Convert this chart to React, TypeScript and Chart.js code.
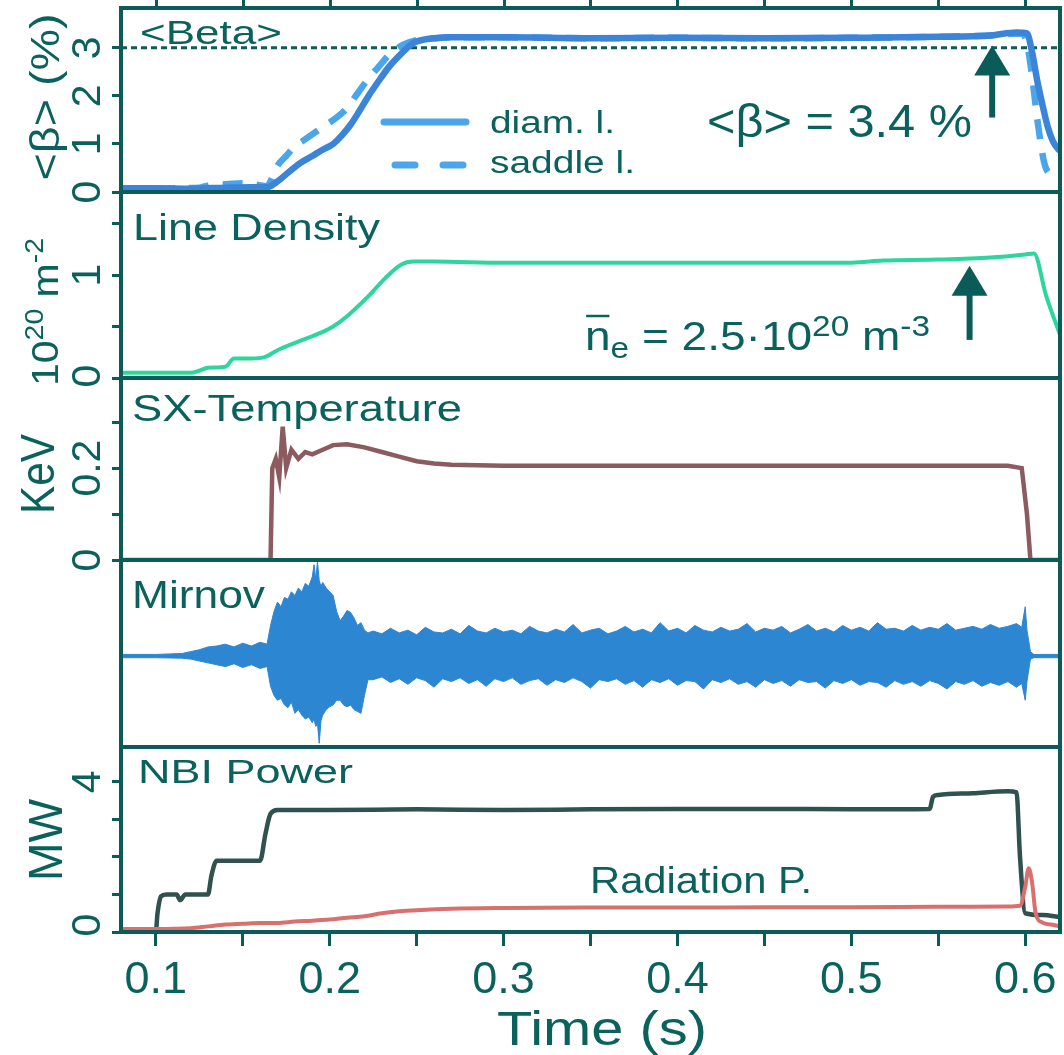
import React, { useEffect, useRef } from 'react';
import { Chart, registerables } from 'chart.js';

Chart.register(...registerables);

// ---------------- data ----------------
const X_MIN = 0.08;
const X_MAX = 0.62;
const X_TICKS = [0.1, 0.15, 0.2, 0.25, 0.3, 0.35, 0.4, 0.45, 0.5, 0.55, 0.6];
const X_LABEL_VALUES = [0.1, 0.2, 0.3, 0.4, 0.5, 0.6];
const X_LABELS = ['0.1', '0.2', '0.3', '0.4', '0.5', '0.6'];
const X_TITLE = 'Time (s)';

const PANEL_TITLES = ['<Beta>', 'Line Density', 'SX-Temperature', 'Mirnov', 'NBI Power'];
const SERIES_LABELS = ['diam. l.', 'saddle l.', 'Line Density', 'SX-Temperature', 'Mirnov', 'NBI Power', 'Radiation P.'];

// Panel 1: <beta> (%)
const BETA_TICKS = [0, 1, 2, 3];
const BETA_TICK_LABELS = ['0', '1', '2', '3'];
const BETA_REF = 3;
const BETA_DIAM_T = [0.08, 0.1, 0.12, 0.14, 0.155, 0.164, 0.17, 0.176, 0.183, 0.19, 0.196, 0.202, 0.207, 0.212, 0.217, 0.222, 0.228, 0.234, 0.239, 0.244, 0.248, 0.254, 0.26, 0.27, 0.3, 0.35, 0.4, 0.45, 0.5, 0.55, 0.58, 0.595, 0.601, 0.604, 0.607, 0.61, 0.613, 0.616, 0.62];
const BETA_DIAM_V = [0.08, 0.08, 0.07, 0.09, 0.1, 0.1, 0.22, 0.4, 0.6, 0.75, 0.88, 1.0, 1.18, 1.4, 1.68, 1.98, 2.3, 2.6, 2.8, 2.98, 3.1, 3.17, 3.2, 3.22, 3.22, 3.2, 3.21, 3.2, 3.21, 3.23, 3.26, 3.32, 3.3, 2.9, 2.3, 1.8, 1.35, 1.05, 0.85];
const BETA_SADDLE_T = [0.08, 0.095, 0.11, 0.125, 0.132, 0.14, 0.15, 0.158, 0.164, 0.167, 0.17, 0.175, 0.18, 0.186, 0.192, 0.198, 0.204, 0.21, 0.216, 0.222, 0.228, 0.234, 0.24, 0.246, 0.252, 0.26, 0.27, 0.3, 0.35, 0.4, 0.45, 0.5, 0.55, 0.58, 0.598, 0.601, 0.604, 0.607, 0.611, 0.615, 0.62];
const BETA_SADDLE_V = [0.08, 0.07, 0.08, 0.09, 0.15, 0.16, 0.18, 0.15, 0.12, 0.3, 0.55, 0.75, 0.95, 1.1, 1.25, 1.4, 1.55, 1.75, 2.05, 2.35, 2.6, 2.85, 3.02, 3.12, 3.18, 3.2, 3.22, 3.22, 3.2, 3.21, 3.2, 3.21, 3.23, 3.26, 3.3, 3.1, 2.4, 1.5, 0.6, 0.35, 0.3];

// Panel 2: line density (1e20 m^-2)
const DENS_TICKS = [0, 0.5, 1, 1.5];
const DENS_TICK_LABELS = ['0', '', '1', ''];
const DENS_T = [0.08, 0.1, 0.12, 0.125, 0.13, 0.14, 0.145, 0.155, 0.162, 0.17, 0.183, 0.195, 0.202, 0.21, 0.222, 0.232, 0.241, 0.248, 0.26, 0.3, 0.35, 0.4, 0.45, 0.5, 0.518, 0.55, 0.58, 0.6, 0.605, 0.612, 0.62];
const DENS_V = [0.05, 0.05, 0.05, 0.07, 0.1, 0.11, 0.19, 0.19, 0.2, 0.27, 0.36, 0.44, 0.5, 0.6, 0.79, 0.97, 1.1, 1.13, 1.13, 1.12, 1.12, 1.12, 1.12, 1.12, 1.14, 1.15, 1.17, 1.2, 1.21, 0.8, 0.42];

// Panel 3: SX temperature (keV)
const SX_TICKS = [0, 0.1, 0.2, 0.3];
const SX_TICK_LABELS = ['0', '', '0.2', ''];
const SX_T = [0.08, 0.166, 0.167, 0.169, 0.171, 0.173, 0.175, 0.178, 0.182, 0.186, 0.19, 0.196, 0.202, 0.21, 0.22, 0.23, 0.24, 0.25, 0.26, 0.27, 0.3, 0.35, 0.4, 0.45, 0.5, 0.55, 0.59, 0.598, 0.601, 0.603, 0.62];
const SX_V = [0, 0, 0.2, 0.22, 0.18, 0.29, 0.2, 0.24, 0.22, 0.235, 0.23, 0.24, 0.25, 0.252, 0.245, 0.235, 0.225, 0.215, 0.21, 0.207, 0.205, 0.205, 0.205, 0.205, 0.205, 0.205, 0.205, 0.2, 0.1, 0, 0];

// Panel 4: Mirnov signal envelope (arb. units)
const MIR_T = [0.08, 0.1, 0.115, 0.12, 0.125, 0.13, 0.135, 0.14, 0.145, 0.15, 0.155, 0.16, 0.164, 0.166, 0.168, 0.17, 0.172, 0.174, 0.176, 0.178, 0.18, 0.182, 0.184, 0.186, 0.188, 0.19, 0.191, 0.192, 0.193, 0.194, 0.195, 0.196, 0.198, 0.2, 0.202, 0.204, 0.206, 0.208, 0.21, 0.212, 0.214, 0.216, 0.218, 0.22, 0.222,
  0.225, 0.23, 0.235, 0.24, 0.245, 0.25, 0.255, 0.26, 0.265, 0.27, 0.275, 0.28, 0.285, 0.29, 0.295, 0.3, 0.305, 0.31, 0.315, 0.32, 0.325, 0.33, 0.335, 0.34, 0.345, 0.35, 0.355, 0.36, 0.365, 0.37, 0.375, 0.38, 0.385, 0.39, 0.395, 0.4, 0.405, 0.41, 0.415, 0.42, 0.425, 0.43, 0.435, 0.44, 0.445, 0.45, 0.455, 0.46, 0.465, 0.47, 0.475, 0.48, 0.485, 0.49, 0.495, 0.5, 0.505, 0.51, 0.515, 0.52, 0.525, 0.53, 0.535, 0.54, 0.545, 0.55, 0.555, 0.56, 0.565, 0.57, 0.575, 0.58, 0.585, 0.59, 0.595,
  0.598, 0.6, 0.601, 0.603, 0.605, 0.62];
const MIR_UPPER = [-0.01, -0.01, 0.0, 0.02, 0.04, 0.07, 0.08, 0.1, 0.07, 0.11, 0.08, 0.12, 0.1, 0.3, 0.45, 0.55, 0.5, 0.6, 0.58, 0.66, 0.62, 0.7, 0.66, 0.75, 0.72, 0.82, 0.95, 0.8, 0.98, 0.78, 0.72, 0.76, 0.7, 0.66, 0.62, 0.45, 0.35, 0.4, 0.46, 0.44, 0.38, 0.3, 0.33, 0.25, 0.22,
  0.24, 0.21, 0.27, 0.22, 0.25, 0.2, 0.28, 0.23, 0.22, 0.26, 0.21, 0.3, 0.24, 0.22, 0.27, 0.23, 0.25, 0.21, 0.29, 0.24, 0.22, 0.26, 0.23, 0.31, 0.22, 0.25, 0.27, 0.21, 0.24, 0.29, 0.23, 0.26, 0.22, 0.33, 0.24, 0.27, 0.22, 0.3, 0.25, 0.23, 0.28, 0.24, 0.26, 0.32, 0.23, 0.27, 0.25, 0.29, 0.22, 0.26, 0.31, 0.24, 0.27, 0.23, 0.3, 0.25, 0.28, 0.24, 0.33, 0.26, 0.27, 0.24, 0.3, 0.25, 0.28, 0.26, 0.32, 0.25, 0.27, 0.29, 0.26, 0.31, 0.27, 0.29, 0.32,
  0.28, 0.5, 0.25, 0.02, -0.01, -0.01];
const MIR_LOWER = [-0.045, -0.045, -0.05, -0.06, -0.08, -0.1, -0.12, -0.14, -0.11, -0.15, -0.12, -0.16, -0.14, -0.35, -0.45, -0.5, -0.48, -0.55, -0.58, -0.52, -0.64, -0.6, -0.66, -0.7, -0.68, -0.74, -0.7, -0.78, -0.75, -0.96, -0.72, -0.66, -0.6, -0.57, -0.55, -0.5, -0.5, -0.55, -0.57, -0.55, -0.6, -0.62, -0.64, -0.45, -0.28,
  -0.28, -0.25, -0.31, -0.27, -0.33, -0.26, -0.29, -0.36, -0.27, -0.3, -0.26, -0.32, -0.28, -0.35, -0.27, -0.3, -0.26, -0.33, -0.29, -0.27, -0.34, -0.28, -0.31, -0.26, -0.3, -0.37, -0.28, -0.3, -0.27, -0.33, -0.29, -0.36, -0.28, -0.31, -0.27, -0.34, -0.29, -0.3, -0.38, -0.28, -0.31, -0.27, -0.33, -0.3, -0.36, -0.28, -0.32, -0.29, -0.35, -0.28, -0.31, -0.3, -0.37, -0.29, -0.32, -0.28, -0.34, -0.3, -0.31, -0.36, -0.29, -0.33, -0.3, -0.35, -0.29, -0.32, -0.38, -0.3, -0.33, -0.29, -0.35, -0.31, -0.34, -0.3, -0.36,
  -0.32, -0.5, -0.3, -0.06, -0.045, -0.045];

// Panel 5: NBI and radiation power (MW)
const NBI_TICKS = [0, 1, 2, 3, 4];
const NBI_TICK_LABELS = ['0', '', '', '', '4'];
const NBI_T = [0.08, 0.1, 0.101, 0.103, 0.106, 0.112, 0.114, 0.117, 0.13, 0.132, 0.135, 0.16, 0.163, 0.166, 0.17, 0.2, 0.25, 0.3, 0.35, 0.4, 0.45, 0.5, 0.545, 0.547, 0.55, 0.57, 0.59, 0.595, 0.597, 0.6, 0.61, 0.62];
const NBI_V = [0, 0, 0.5, 0.95, 1.0, 1.0, 0.85, 1.0, 1.0, 1.5, 1.9, 1.9, 2.6, 3.15, 3.25, 3.25, 3.27, 3.25, 3.27, 3.28, 3.28, 3.27, 3.28, 3.6, 3.65, 3.7, 3.75, 3.72, 2.0, 0.5, 0.45, 0.4];
const RAD_T = [0.08, 0.1, 0.12, 0.13, 0.14, 0.15, 0.16, 0.17, 0.18, 0.19, 0.2, 0.21, 0.22, 0.23, 0.24, 0.25, 0.27, 0.3, 0.35, 0.4, 0.45, 0.5, 0.55, 0.59, 0.597, 0.6, 0.602, 0.604, 0.606, 0.61, 0.615, 0.62];
const RAD_V = [0.08, 0.08, 0.1, 0.15, 0.2, 0.22, 0.24, 0.24, 0.28, 0.3, 0.33, 0.38, 0.42, 0.5, 0.55, 0.58, 0.62, 0.64, 0.65, 0.65, 0.66, 0.66, 0.67, 0.68, 0.7, 1.2, 1.7, 1.3, 0.5, 0.25, 0.2, 0.15];

// annotation arrows (time, from value, to value)
const BETA_ARROW = [0.581, 1.55, 3.05];
const DENS_ARROW = [0.568, 0.37, 1.09];

// ---------------- styles ----------------
const FONT = "'Liberation Sans', Arial, Helvetica, sans-serif";
const TEAL = '#0b5c58';
const TEXT = '#0b625c';
const C_DIAM = '#3b84d8';
const C_SADDLE = '#4aa5ec';
const C_DENS = '#2dd69a';
const C_SX = '#8c5b60';
const C_MIR = '#2d86d2';
const C_NBI = '#30524f';
const C_RAD = '#d8706e';

const W = 1064;
const H = 1055;
const LEFT = 121;
const BOTTOM = 932;

type Run = { t: string; size: number; dy?: number; over?: boolean };

function drawRuns(ctx: CanvasRenderingContext2D, runs: Run[], x: number, y: number, rot: number, width: number, align: 'left' | 'center', color: string = TEXT) {
  ctx.save();
  ctx.fillStyle = color;
  ctx.strokeStyle = color;
  ctx.textAlign = 'left';
  ctx.textBaseline = 'alphabetic';
  const widths = runs.map((r) => {
    ctx.font = `${r.size}px ${FONT}`;
    return ctx.measureText(r.t).width;
  });
  const total = widths.reduce((a, b) => a + b, 0);
  const s = width > 0 ? width / total : 1;
  ctx.translate(x, y);
  if (rot) ctx.rotate(rot);
  ctx.scale(s, 1);
  let cx = align === 'center' ? -total / 2 : 0;
  runs.forEach((r, i) => {
    ctx.font = `${r.size}px ${FONT}`;
    const dy = r.dy || 0;
    ctx.fillText(r.t, cx, -dy);
    if (r.over) {
      ctx.lineWidth = 2.5;
      ctx.beginPath();
      ctx.moveTo(cx + 1, -dy - r.size * 0.85);
      ctx.lineTo(cx + widths[i] - 1, -dy - r.size * 0.85);
      ctx.stroke();
    }
    cx += widths[i];
  });
  ctx.restore();
}

const pts = (T: number[], V: number[]) => T.map((t, i) => ({ x: t, y: V[i] }));

const PANELS = [
  { id: 'yBeta', ticks: BETA_TICKS, labels: BETA_TICK_LABELS, zeroShift: 0 },
  { id: 'yDens', ticks: DENS_TICKS, labels: DENS_TICK_LABELS, zeroShift: -2 },
  { id: 'ySx', ticks: SX_TICKS, labels: SX_TICK_LABELS, zeroShift: 0 },
  { id: 'yMir', ticks: [] as number[], labels: [] as string[], zeroShift: 0 },
  { id: 'yNbi', ticks: NBI_TICKS, labels: NBI_TICK_LABELS, zeroShift: -7 },
];

function drawArrow(ctx: CanvasRenderingContext2D, px: number, yFrom: number, yTo: number) {
  ctx.save();
  ctx.fillStyle = TEAL;
  ctx.strokeStyle = TEAL;
  ctx.lineWidth = 6;
  ctx.beginPath();
  ctx.moveTo(px, yFrom);
  ctx.lineTo(px, yTo + 20);
  ctx.stroke();
  ctx.beginPath();
  ctx.moveTo(px, yTo);
  ctx.lineTo(px - 18, yTo + 30);
  ctx.lineTo(px + 18, yTo + 30);
  ctx.closePath();
  ctx.fill();
  ctx.restore();
}

const overlay = {
  id: 'overlay',
  beforeDraw(chart: any) {
    const ctx = chart.ctx as CanvasRenderingContext2D;
    ctx.save();
    ctx.fillStyle = '#ffffff';
    ctx.fillRect(0, 0, chart.width, chart.height);
    ctx.restore();
  },
  afterDatasetsDraw(chart: any) {
    const ctx = chart.ctx as CanvasRenderingContext2D;
    const xs = chart.scales.x;
    const yb = chart.scales.yBeta;
    drawArrow(ctx, xs.getPixelForValue(BETA_ARROW[0]), yb.getPixelForValue(BETA_ARROW[1]), yb.getPixelForValue(BETA_ARROW[2]));
    const yd = chart.scales.yDens;
    drawArrow(ctx, xs.getPixelForValue(DENS_ARROW[0]), yd.getPixelForValue(DENS_ARROW[1]), yd.getPixelForValue(DENS_ARROW[2]));
    // legend
    ctx.save();
    ctx.lineCap = 'round';
    ctx.lineWidth = 7;
    ctx.strokeStyle = C_SADDLE;
    ctx.beginPath();
    ctx.moveTo(384, 122);
    ctx.lineTo(466, 122);
    ctx.stroke();
    ctx.setLineDash([20, 28]);
    ctx.beginPath();
    ctx.moveTo(395, 165);
    ctx.lineTo(466, 165);
    ctx.stroke();
    ctx.restore();
    drawRuns(ctx, [{ t: SERIES_LABELS[0], size: 31 }], 490, 133, 0, 125, 'left');
    drawRuns(ctx, [{ t: SERIES_LABELS[1], size: 31 }], 490, 173, 0, 145, 'left');
  },
  afterDraw(chart: any) {
    const ctx = chart.ctx as CanvasRenderingContext2D;
    const ca = chart.chartArea;
    const xs = chart.scales.x;
    // panel frames
    ctx.save();
    ctx.strokeStyle = TEAL;
    ctx.lineWidth = 4;
    for (const p of PANELS) {
      const s = chart.scales[p.id];
      ctx.strokeRect(ca.left, s.top, ca.right - ca.left, s.bottom - s.top);
    }
    // top tick marks
    ctx.lineWidth = 3;
    for (const v of X_TICKS) {
      const px = Math.round(xs.getPixelForValue(v)) + 0.5;
      ctx.beginPath();
      ctx.moveTo(px, ca.top);
      ctx.lineTo(px, ca.top - 9);
      ctx.stroke();
    }
    ctx.restore();
    // x labels
    X_LABEL_VALUES.forEach((v, i) => {
      drawRuns(ctx, [{ t: X_LABELS[i], size: 45 }], xs.getPixelForValue(v), 993, 0, 0, 'center');
    });
    drawRuns(ctx, [{ t: X_TITLE, size: 48 }], 602, 1045, 0, 210, 'center');
    // y tick labels (rotated)
    for (const p of PANELS) {
      const s = chart.scales[p.id];
      p.ticks.forEach((v, i) => {
        const lab = p.labels[i];
        if (!lab) return;
        const py = s.getPixelForValue(v) + (v === 0 ? p.zeroShift : 0);
        drawRuns(ctx, [{ t: lab, size: 41 }], 100, py, -Math.PI / 2, 0, 'center');
      });
    }
    // y titles (rotated)
    drawRuns(ctx, [{ t: '<β> (%)', size: 41 }], 59, 97, -Math.PI / 2, 167, 'center');
    drawRuns(ctx, [{ t: '10', size: 36 }, { t: '20', size: 25, dy: 15 }, { t: ' m', size: 36 }, { t: '-2', size: 25, dy: 15 }], 58, 312, -Math.PI / 2, 148, 'center');
    drawRuns(ctx, [{ t: 'KeV', size: 49 }], 54, 474, -Math.PI / 2, 80, 'center');
    drawRuns(ctx, [{ t: 'MW', size: 49 }], 62, 840, -Math.PI / 2, 82, 'center');
    // panel titles
    drawRuns(ctx, [{ t: PANEL_TITLES[0], size: 33 }], 140, 44, 0, 142, 'left');
    drawRuns(ctx, [{ t: PANEL_TITLES[1], size: 36 }], 133, 240, 0, 247, 'left');
    drawRuns(ctx, [{ t: PANEL_TITLES[2], size: 36 }], 132, 421, 0, 330, 'left');
    drawRuns(ctx, [{ t: PANEL_TITLES[3], size: 39 }], 132, 608, 0, 133, 'left');
    drawRuns(ctx, [{ t: PANEL_TITLES[4], size: 34 }], 138, 783, 0, 215, 'left');
    drawRuns(ctx, [{ t: SERIES_LABELS[6], size: 36 }], 590, 893, 0, 222, 'left');
    // annotations
    drawRuns(ctx, [{ t: '<β> = 3.4 %', size: 47 }], 707, 137, 0, 265, 'left');
    drawRuns(ctx, [
      { t: 'n', size: 40, over: true },
      { t: 'e', size: 29, dy: -8 },
      { t: ' = 2.5·10', size: 40 },
      { t: '20', size: 29, dy: 14 },
      { t: ' m', size: 40 },
      { t: '-3', size: 29, dy: 14 },
    ], 585, 350, 0, 345, 'left');
  },
};

function yAxis(min: number, max: number, ticks: number[], weight: number, stackWeight: number, drawTicks = true) {
  return {
    type: 'linear',
    position: 'left',
    stack: 'panels',
    stackWeight,
    weight,
    min,
    max,
    afterBuildTicks: (s: any) => {
      if (ticks.length) s.ticks = ticks.map((v) => ({ value: v }));
    },
    afterFit: (s: any) => {
      s.width = LEFT;
    },
    ticks: { display: false },
    grid: { display: true, drawOnChartArea: false, drawTicks, tickLength: 9, tickWidth: 3, tickColor: TEAL, color: TEAL },
    border: { display: false },
  };
}

export default function App() {
  const ref = useRef<HTMLCanvasElement>(null);
  useEffect(() => {
    const canvas = ref.current;
    if (!canvas) return;
    const line = (label: string, data: any[], yAxisID: string, color: string, width: number, extra: any = {}) => ({
      label,
      data,
      yAxisID,
      xAxisID: 'x',
      borderColor: color,
      backgroundColor: color,
      borderWidth: width,
      pointRadius: 0,
      fill: false,
      cubicInterpolationMode: 'monotone',
      ...extra,
    });
    const flat = { cubicInterpolationMode: 'default', tension: 0 };
    const chart = new Chart(canvas, {
      type: 'line',
      data: {
        datasets: [
          line(SERIES_LABELS[0], pts(BETA_DIAM_T, BETA_DIAM_V), 'yBeta', C_DIAM, 6.5),
          line(SERIES_LABELS[1], pts(BETA_SADDLE_T, BETA_SADDLE_V), 'yBeta', C_SADDLE, 6.5, { borderDash: [20, 14] }),
          line('ref', [{ x: X_MIN, y: BETA_REF }, { x: X_MAX, y: BETA_REF }], 'yBeta', TEAL, 3, { borderDash: [6, 4] }),
          line(SERIES_LABELS[2], pts(DENS_T, DENS_V), 'yDens', C_DENS, 4),
          line(SERIES_LABELS[3], pts(SX_T, SX_V), 'ySx', C_SX, 4.5, flat),
          line(SERIES_LABELS[4] + ' upper', pts(MIR_T, MIR_UPPER), 'yMir', C_MIR, 1, { fill: '+1', ...flat }),
          line(SERIES_LABELS[4] + ' lower', pts(MIR_T, MIR_LOWER), 'yMir', C_MIR, 1, flat),
          line(SERIES_LABELS[6], pts(RAD_T, RAD_V), 'yNbi', C_RAD, 4),
          line(SERIES_LABELS[5], pts(NBI_T, NBI_V), 'yNbi', C_NBI, 4.5),
        ],
      },
      options: {
        responsive: false,
        animation: false,
        devicePixelRatio: 1,
        events: [],
        layout: { padding: { left: 0, right: 4, top: 8, bottom: 0 } },
        plugins: { legend: { display: false }, tooltip: { enabled: false } },
        scales: {
          x: {
            type: 'linear',
            position: 'bottom',
            min: X_MIN,
            max: X_MAX,
            afterBuildTicks: (s: any) => {
              s.ticks = X_TICKS.map((v) => ({ value: v }));
            },
            afterFit: (s: any) => {
              s.height = H - BOTTOM;
            },
            ticks: { display: false },
            grid: { display: true, drawOnChartArea: false, drawTicks: true, tickLength: 14, tickWidth: 3, tickColor: TEAL, color: TEAL },
            border: { display: false },
          },
          yBeta: yAxis(0, 3.83, BETA_TICKS, 5, 184),
          yDens: yAxis(0, 1.806, DENS_TICKS, 4, 186),
          ySx: yAxis(0, 0.396, SX_TICKS, 3, 182),
          yMir: yAxis(-1, 1, [], 2, 187, false),
          yNbi: yAxis(0, 4.93, NBI_TICKS, 1, 185),
        } as any,
      },
      plugins: [overlay],
    } as any);
    return () => chart.destroy();
  }, []);
  return (
    <div style={{ position: 'fixed', left: 0, top: 0, width: W, height: H, background: '#fff' }}>
      <canvas ref={ref} width={W} height={H} style={{ display: 'block', width: W, height: H }} />
    </div>
  );
}
